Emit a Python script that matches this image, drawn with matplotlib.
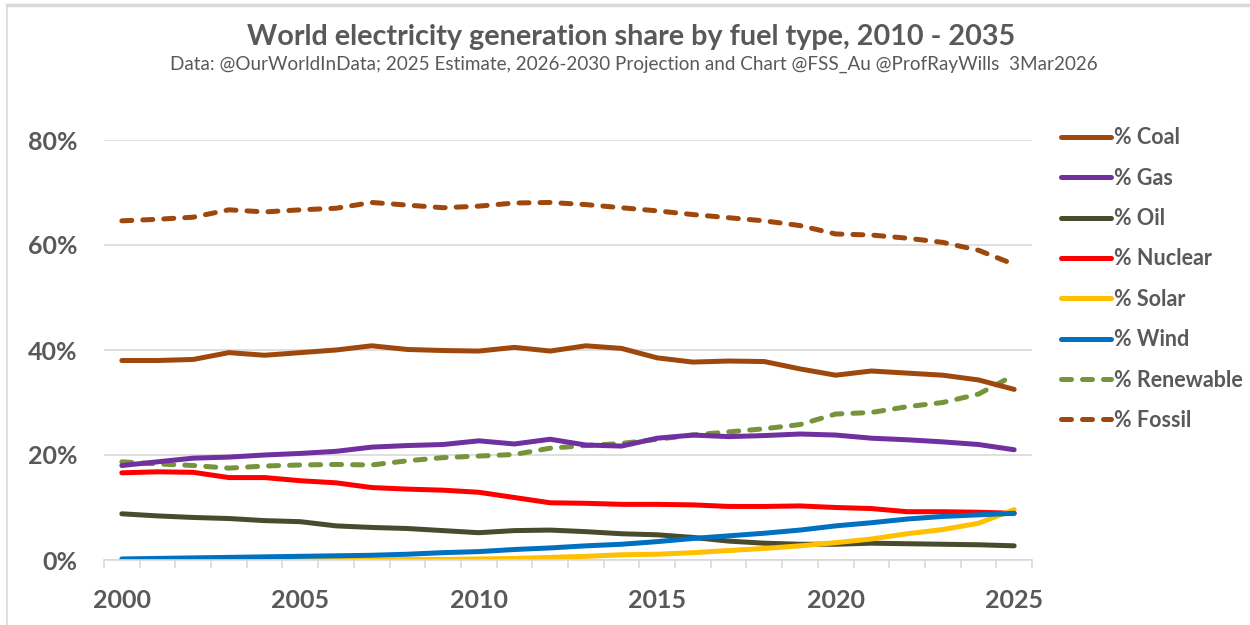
#!/usr/bin/python3

# World electricity generation share by fuel type - line chart

import matplotlib.pyplot as plt
import matplotlib.lines as mlines
import numpy as np

plt.rcParams['font.family'] = ['Lato', 'DejaVu Sans']

years = np.arange(2000, 2026)

# shares in percent
coal = [38.0, 38.0, 38.2, 39.5, 39.0, 39.5, 40.0, 40.8, 40.1, 39.9, 39.8, 40.5, 39.8,
        40.8, 40.3, 38.5, 37.7, 37.9, 37.8, 36.4, 35.2, 36.0, 35.6, 35.2, 34.3, 32.5]
gas = [18.0, 18.7, 19.4, 19.6, 20.0, 20.3, 20.7, 21.5, 21.8, 22.0, 22.7, 22.1, 23.0,
       21.9, 21.7, 23.2, 23.8, 23.5, 23.7, 24.0, 23.8, 23.2, 22.9, 22.5, 22.0, 21.0]
oil = [8.8, 8.4, 8.1, 7.9, 7.5, 7.3, 6.5, 6.2, 6.0, 5.6, 5.2, 5.6, 5.7,
       5.4, 5.0, 4.8, 4.3, 3.6, 3.2, 3.0, 3.0, 3.2, 3.1, 3.0, 2.9, 2.7]
nuclear = [16.6, 16.8, 16.7, 15.7, 15.7, 15.1, 14.7, 13.8, 13.5, 13.3, 12.9, 11.9, 10.9,
           10.8, 10.6, 10.6, 10.5, 10.2, 10.2, 10.3, 10.0, 9.8, 9.2, 9.2, 9.1, 8.9]
solar = [0.0, 0.0, 0.0, 0.0, 0.0, 0.0, 0.0, 0.0, 0.1, 0.1, 0.2, 0.3, 0.5,
         0.7, 1.0, 1.1, 1.4, 1.8, 2.2, 2.7, 3.3, 4.0, 5.0, 5.8, 7.0, 9.6]
wind = [0.2, 0.3, 0.4, 0.5, 0.6, 0.7, 0.8, 0.9, 1.1, 1.4, 1.6, 2.0, 2.3,
        2.7, 3.0, 3.5, 4.1, 4.6, 5.1, 5.7, 6.5, 7.1, 7.8, 8.3, 8.6, 8.9]
renewable = [18.7, 18.3, 18.0, 17.5, 17.9, 18.1, 18.2, 18.1, 18.9, 19.5, 19.8, 20.1, 21.3,
             21.8, 22.2, 23.0, 23.8, 24.4, 25.0, 25.8, 27.8, 28.1, 29.2, 30.0, 31.6, 35.2]
fossil = [64.6, 64.9, 65.3, 66.7, 66.3, 66.7, 67.0, 68.1, 67.6, 67.1, 67.4, 68.0, 68.1,
          67.7, 67.1, 66.5, 65.8, 65.2, 64.6, 63.7, 62.1, 61.9, 61.3, 60.5, 59.0, 56.3]

labels = ['% Coal', '% Gas', '% Oil', '% Nuclear', '% Solar', '% Wind', '% Renewable', '% Fossil']
colors = ['#9E480E', '#7030A0', '#4A4A2C', '#FF0000', '#FFC000', '#0070C0', '#77933C', '#9E480E']
styles = ['-', '-', '-', '-', '-', '-', '--', '--']
series = [coal, gas, oil, nuclear, solar, wind, renewable, fossil]

grey = '#595959'

fig = plt.figure(figsize=(12.5, 6.25), dpi=100)
ax = fig.add_axes([0.0832, 0.104, 0.7424, 0.672])

# draw order: background lines first so the overlaps look the same
order = [6, 7, 0, 1, 3, 2, 4, 5]
handles = {}
for i in order:
    kw = dict(color=colors[i], linewidth=3.6, solid_capstyle='round',
              dash_capstyle='round', solid_joinstyle='round', label=labels[i])
    if styles[i] == '--':
        kw['dashes'] = (2.0, 2.2)
    line, = ax.plot(years, series[i], **kw)
    handles[i] = line

ax.set_xlim(1999.5, 2025.5)
ax.set_ylim(0, 80)
ax.set_yticks([0, 20, 40, 60, 80])
ax.set_yticklabels(['0%', '20%', '40%', '60%', '80%'])
ax.set_xticks([2000, 2005, 2010, 2015, 2020, 2025])
ax.set_xticks(np.arange(1999.5, 2026, 1), minor=True)

ax.grid(axis='y', color='#D9D9D9', linewidth=1.2)
ax.set_axisbelow(True)
for s in ['top', 'right', 'left']:
    ax.spines[s].set_visible(False)
ax.spines['bottom'].set_color('#D9D9D9')
ax.spines['bottom'].set_linewidth(1.2)

ax.tick_params(axis='y', length=0, pad=19, labelsize=18, labelcolor=grey)
ax.tick_params(axis='x', which='major', length=0, pad=21, labelsize=18, labelcolor=grey)
ax.tick_params(axis='x', which='minor', length=6, width=1.2, color='#D9D9D9')
for t in ax.get_xticklabels() + ax.get_yticklabels():
    t.set_fontweight('bold')

# legend in Excel order
leg = fig.legend([handles[i] for i in range(8)], labels,
                 loc='upper left', bbox_to_anchor=(0.842, 0.81),
                 frameon=False, fontsize=15.5, handlelength=2.3,
                 handletextpad=0.15, labelspacing=0.9, borderaxespad=0)
for t in leg.get_texts():
    t.set_color(grey)
    t.set_fontweight('bold')

fig.text(0.1976, 0.94, 'World electricity generation share by fuel type, 2010 - 2035',
         ha='left', va='center', fontsize=20.7, fontweight='bold', color=grey)
fig.text(0.136, 0.897, 'Data: @OurWorldInData; 2025 Estimate, 2026-2030 Projection and Chart '
         '@FSS_Au @ProfRayWills  3Mar2026',
         ha='left', va='center', fontsize=13.6, color=grey)

# frame edges of the original screenshot
fig.add_artist(mlines.Line2D([0.0056, 1], [0.992, 0.992], color='#D9D9D9', linewidth=2.5))
fig.add_artist(mlines.Line2D([0.0056, 0.0056], [0, 0.992], color='#D9D9D9', linewidth=1.2))

fig.savefig('out.png', dpi=100)
